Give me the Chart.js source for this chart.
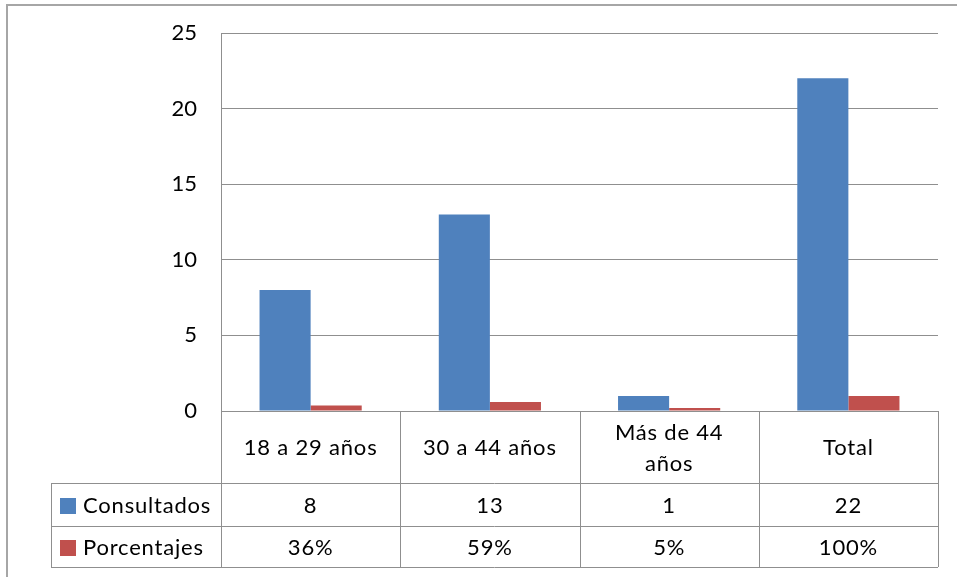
<!DOCTYPE html>
<html>
<head>
<meta charset="utf-8">
<script src="https://cdn.jsdelivr.net/npm/chart.js@4.4.0/dist/chart.umd.min.js"></script>
<style>
  html, body { margin: 0; padding: 0; background: #fff; }
  #wrap { width: 957px; height: 577px; }
</style>
</head>
<body>
<div id="wrap"><canvas id="chart"></canvas></div>
<script>
// data
const categories = ["18 a 29 años", "30 a 44 años", ["Más de 44", "años"], "Total"]
const consultados = [8, 13, 1, 22]
const porcentajes = [0.36, 0.59, 0.05, 1.00]
const seriesNames = ["Consultados", "Porcentajes"]
const seriesColors = ["#4F81BD", "#C0504D"]

const lineColor = "#8f8f8f"
const textColor = "#000"
const fontFamily = "Lato, 'Open Sans', sans-serif"
const fontSize = 22

// draws the outer frame and the data table below the plot
const dataTable = {
  id: "dataTable",
  afterDraw(chart) {
    const ctx = chart.ctx
    const area = chart.chartArea
    const xs = chart.scales.x
    const n = categories.length
    const colW = (area.right - area.left) / n
    const legendLeft = 51
    const catTop = area.bottom
    const catBottom = catTop + 72
    const rowBottoms = [catBottom + 43, catBottom + 84]
    const rowTops = [catBottom, rowBottoms[0]]

    ctx.save()
    // outer frame
    ctx.strokeStyle = "#a6a6a6"
    ctx.lineWidth = 2
    ctx.strokeRect(7, 5, 1200, 1200)

    ctx.strokeStyle = lineColor
    ctx.lineWidth = 1
    const hline = (x1, x2, y) => {
      ctx.beginPath(); ctx.moveTo(x1, Math.round(y) + 0.5); ctx.lineTo(x2, Math.round(y) + 0.5); ctx.stroke()
    }
    const vline = (x, y1, y2) => {
      ctx.beginPath(); ctx.moveTo(Math.round(x) + 0.5, y1); ctx.lineTo(Math.round(x) + 0.5, y2); ctx.stroke()
    }
    hline(area.left, area.right, catTop)
    hline(legendLeft, area.right, catBottom)
    hline(legendLeft, area.right, rowBottoms[0])
    hline(legendLeft, area.right, rowBottoms[1])
    vline(legendLeft, catBottom, rowBottoms[1])
    vline(area.left, catTop, rowBottoms[1])
    for (let i = 0; i < n; i++) {
      vline(xs.getPixelForTick(i) + colW / 2, catTop, rowBottoms[1])
    }

    ctx.fillStyle = textColor
    ctx.font = fontSize + "px " + fontFamily
    ctx.letterSpacing = "0.8px"
    ctx.textAlign = "center"
    ctx.textBaseline = "middle"

    // category labels
    categories.forEach((c, i) => {
      const cx = xs.getPixelForTick(i)
      const lines = Array.isArray(c) ? c : [c]
      const lh = 31
      const mid = (catTop + catBottom) / 2 + 1
      lines.forEach((t, j) => {
        ctx.fillText(t, cx, mid + (j - (lines.length - 1) / 2) * lh)
      })
    })

    // series rows
    const rows = [
      consultados.map(v => String(v)),
      porcentajes.map(v => Math.round(v * 100) + "%")
    ]
    rows.forEach((vals, r) => {
      const cy = (rowTops[r] + rowBottoms[r]) / 2 + 1
      vals.forEach((t, i) => ctx.fillText(t, xs.getPixelForTick(i), cy))
      // legend key + name
      ctx.fillStyle = seriesColors[r]
      ctx.fillRect(60, Math.round(cy) - 8, 16, 16)
      ctx.fillStyle = textColor
      ctx.textAlign = "left"
      ctx.fillText(seriesNames[r], 83, cy)
      ctx.textAlign = "center"
    })
    ctx.restore()
  }
}

new Chart(document.getElementById("chart"), {
  type: "bar",
  data: {
    labels: categories,
    datasets: [{
      label: seriesNames[0],
      data: consultados,
      backgroundColor: seriesColors[0],
      categoryPercentage: 0.57,
      barPercentage: 1.0,
    }, {
      label: seriesNames[1],
      data: porcentajes,
      backgroundColor: seriesColors[1],
      categoryPercentage: 0.57,
      barPercentage: 1.0,
      minBarLength: 3,
    }]
  },
  options: {
    responsive: true,
    maintainAspectRatio: false,
    animation: false,
    layout: { padding: { left: 0, top: 33, right: 19, bottom: 166 } },
    plugins: { legend: { display: false }, tooltip: { enabled: false } },
    scales: {
      x: { display: false, offset: true },
      y: {
        min: 0,
        max: 25,
        ticks: {
          stepSize: 5,
          padding: 24,
          color: textColor,
          font: { family: fontFamily, size: fontSize }
        },
        grid: { color: lineColor, drawTicks: false },
        border: { display: true, color: lineColor },
        afterFit(scale) {
          scale.width = 221
          scale.paddingTop = 0
          scale.paddingBottom = 0
        }
      }
    }
  },
  plugins: [dataTable]
})
</script>
</body>
</html>
